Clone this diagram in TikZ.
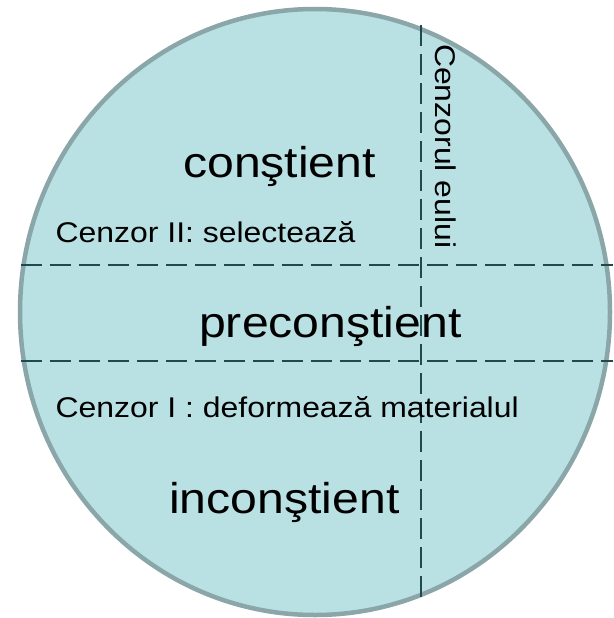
\documentclass[tikz,border=0pt]{standalone}
\usepackage{fontspec}
\usepackage{graphicx}
\setmainfont{Liberation Sans}
\definecolor{fillc}{HTML}{B9E0E3}
\definecolor{rimc}{HTML}{8AA6A8}
\definecolor{dashc}{HTML}{1E4A4F}
\tikzset{
  divider/.style={draw=dashc, line width=2.6pt, dash pattern=on 21pt off 8pt},
  bigtext/.style={inner sep=0pt, anchor=base west, font=\fontsize{43}{50}\selectfont},
  smalltext/.style={inner sep=0pt, anchor=base west, font=\fontsize{28.5}{34}\selectfont},
}
\begin{document}
\begin{tikzpicture}[x=1pt, y=-1pt]
\useasboundingbox (0,0) rectangle (613,618);
\draw[fill=fillc, draw=rimc, line width=4.5pt] (315,312) ellipse [x radius=295, y radius=303];
\coordinate (h1a) at (21,265);
\coordinate (h1b) at (613,265);
\coordinate (h2a) at (21,361);
\coordinate (h2b) at (613,361);
\coordinate (va) at (421,25);
\coordinate (vb) at (421,601);
\draw[divider] (h1a) -- (h1b);
\draw[divider] (h2a) -- (h2b);
\draw[divider] (va) -- (vb);
\node[bigtext] (con) at (183,177) {\scalebox{1.12}[1]{conştient}};
\node[smalltext] (c2) at (55.5,242) {\scalebox{1.12}[1]{Cenzor II: selectează}};
\node[bigtext] (pre) at (199,337) {\scalebox{1.12}[1]{preconştient}};
\node[smalltext] (c1) at (55.5,417) {\scalebox{1.12}[1]{Cenzor I : deformează materialul}};
\node[bigtext] (inc) at (169,513) {\scalebox{1.12}[1]{inconştient}};
\node[smalltext, rotate=-90] (ceu) at (435,44) {\scalebox{1.12}[1]{Cenzorul eului}};
\end{tikzpicture}
\end{document}
